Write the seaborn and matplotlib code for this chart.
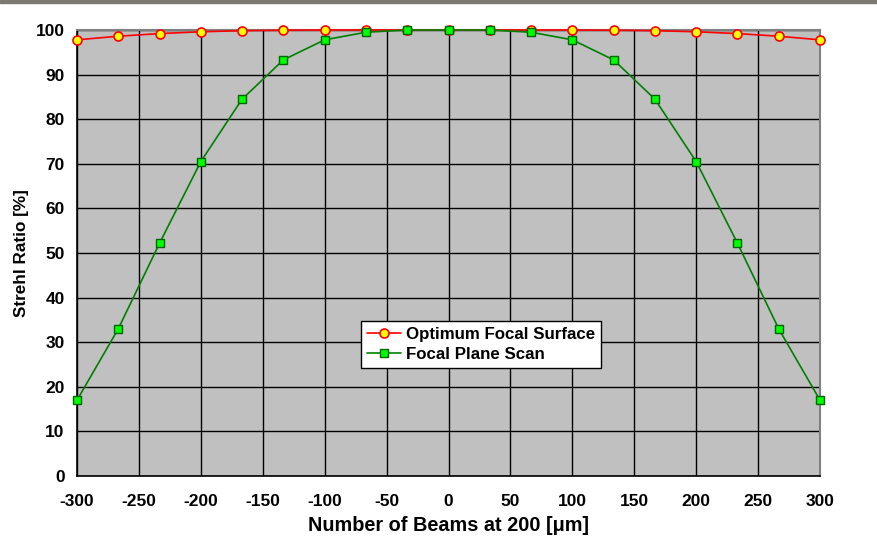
import numpy as np
import pandas as pd
import matplotlib
matplotlib.use("Agg")
import matplotlib.pyplot as plt
import seaborn as sns
from matplotlib.ticker import MultipleLocator

x_pos = [-300, -266.67, -233.33, -200, -166.67, -133.33, -100, -66.67, -33.33, 0,
         33.33, 66.67, 100, 133.33, 166.67, 200, 233.33, 266.67, 300]
optimum = [97.8, 98.6, 99.2, 99.6, 99.85, 99.95, 100, 100, 100, 100,
           100, 100, 100, 99.95, 99.85, 99.6, 99.2, 98.6, 97.8]
focal_scan = [17.0, 33.0, 52.2, 70.5, 84.5, 93.3, 97.8, 99.5, 100, 100,
              100, 99.5, 97.8, 93.3, 84.5, 70.5, 52.2, 33.0, 17.0]
series_names = ["Optimum Focal Surface", "Focal Plane Scan"]

df = pd.DataFrame({
    "x": x_pos * 2,
    "y": optimum + focal_scan,
    "series": [series_names[0]] * len(x_pos) + [series_names[1]] * len(x_pos),
})

sns.set_style("white")
plt.rcParams["font.family"] = ["Liberation Sans", "DejaVu Sans"]
plt.rcParams["font.weight"] = "bold"
plt.rcParams["axes.unicode_minus"] = False
for k in ["text.color", "axes.labelcolor", "xtick.color", "ytick.color"]:
    plt.rcParams[k] = "black"

fig = plt.figure(figsize=(8.77, 5.43), dpi=100)
ax = fig.add_axes([77/877, 1 - 476/543, (820 - 77)/877, (476 - 30)/543])
ax.set_facecolor("#C0C0C0")

styles = {
    series_names[0]: dict(color="#FF0000", marker="o", mfc="#FFFF00", mec="#FF0000", ms=6.5, mew=1.2),
    series_names[1]: dict(color="#008000", marker="s", mfc="#00FF00", mec="#006400", ms=5.5, mew=1.0),
}
for name in series_names:
    sub = df[df["series"] == name]
    st = styles[name]
    sns.lineplot(data=sub, x="x", y="y", ax=ax, color=st["color"], lw=1.2,
                 marker=st["marker"], markerfacecolor=st["mfc"], markeredgecolor=st["mec"],
                 markersize=st["ms"], markeredgewidth=st["mew"], label=name,
                 clip_on=False, zorder=3)

ax.set_xlim(-300, 300)
ax.set_ylim(0, 100)
ax.xaxis.set_major_locator(MultipleLocator(50))
ax.xaxis.set_minor_locator(MultipleLocator(10))
ax.yaxis.set_major_locator(MultipleLocator(10))
ax.yaxis.set_minor_locator(MultipleLocator(2))
ax.grid(True, which="major", color="black", lw=1.0)
ax.set_axisbelow(True)

ax.tick_params(axis="x", which="major", direction="inout", length=10, width=1, labelsize=12.5, pad=8)
ax.tick_params(axis="x", which="minor", direction="in", length=4, width=1)
ax.tick_params(axis="y", which="major", direction="inout", length=10, width=1, labelsize=12.5, pad=4)
ax.tick_params(axis="y", which="minor", direction="in", length=4, width=1)
for lab in ax.get_xticklabels() + ax.get_yticklabels():
    lab.set_fontweight("bold")

for side in ["left", "bottom"]:
    ax.spines[side].set_color("black")
    ax.spines[side].set_linewidth(1.2)
for side in ["right", "top"]:
    ax.spines[side].set_color("#808080")
    ax.spines[side].set_linewidth(1.5)

ax.set_xlabel("Number of Beams at 200 [μm]", fontsize=14.3, fontweight="bold", labelpad=5)
ax.set_ylabel("Strehl Ratio [%]", fontsize=12.3, fontweight="bold", labelpad=5)

leg = ax.legend(loc="center left", bbox_to_anchor=(0.382, 0.295), frameon=True, fancybox=False,
                prop=dict(weight="bold", size=12.2), handlelength=2.0, handletextpad=0.3,
                borderpad=0.35, labelspacing=0.3, borderaxespad=0)
leg.get_frame().set_edgecolor("black")
leg.get_frame().set_linewidth(1.0)
leg.get_frame().set_facecolor("white")
leg.get_frame().set_alpha(1)
for t in leg.get_texts():
    t.set_color("black")

fig.patches.append(matplotlib.patches.Rectangle((0, 1 - 3/543), 1, 3/543, transform=fig.transFigure,
                                                color="#7A7A70", zorder=0))

fig.savefig("out.png", dpi=100, facecolor="white")
